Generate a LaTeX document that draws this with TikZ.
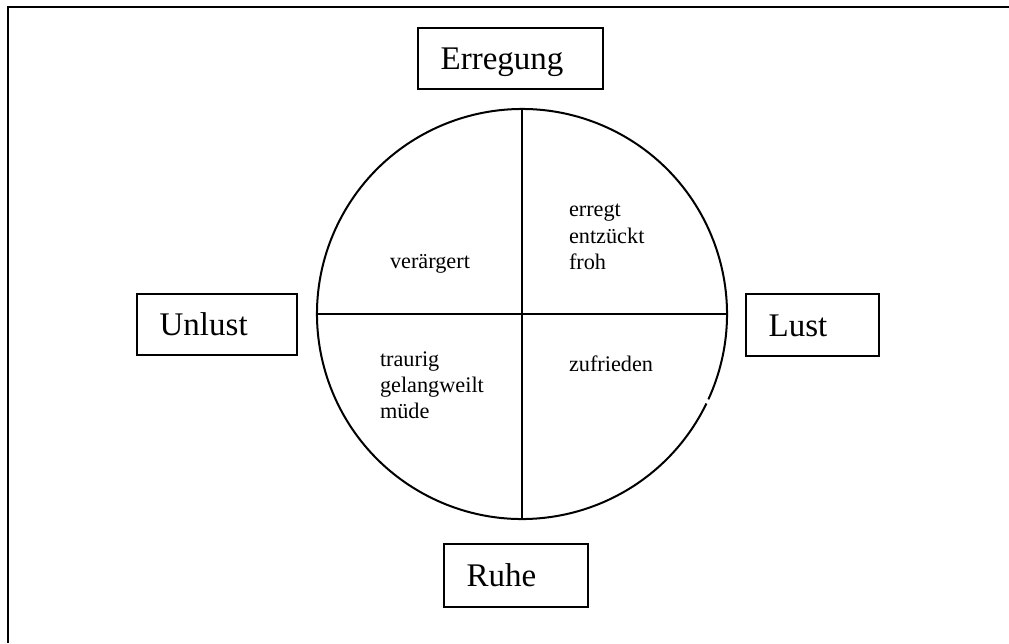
\documentclass[tikz,border=0pt]{standalone}
\usepackage{fontspec}
\setmainfont{Liberation Serif}
\begin{document}
\begin{tikzpicture}[x=0.75pt,y=-0.75pt,
  line width=1.5pt,
  axisbox/.style={draw, line width=1.5pt, align=left, inner xsep=17pt, inner ysep=0pt,
    text height=20pt, text depth=2.8pt, font=\fontsize{24.75}{29}\selectfont},
  mood/.style={anchor=base west, inner sep=0pt, font=\fontsize{16.7}{20}\selectfont}]
  \useasboundingbox (0,0) rectangle (1009,643);

  % frame (top and left edges)
  \coordinate (fTL) at (8,6.5);
  \coordinate (fTR) at (1009,6.5);
  \coordinate (fBL) at (8,643);
  \draw (fTR) -- (fTL) -- (fBL);

  % circle with quadrant axes (small break at lower right)
  \coordinate (c) at (522,314);
  \draw (c) ++(25.9:205) arc[start angle=25.9, end angle=384.6, radius=205];
  \coordinate (cT) at (522,109);
  \coordinate (cB) at (522,519);
  \coordinate (cL) at (317,314);
  \coordinate (cR) at (727,314);
  \draw (cT) -- (cB);
  \draw (cL) -- (cR);

  % axis labels
  \node[axisbox, minimum width=138.75pt, minimum height=45.75pt, text width=104.75pt] (erregung) at (510.5,58.5) {Erregung};
  \node[axisbox, minimum width=120pt, minimum height=45.75pt, text width=86pt] (unlust) at (217,324.5) {Unlust};
  \node[axisbox, minimum width=99.75pt, minimum height=46.5pt, text width=65.75pt] (lust) at (812.5,325) {Lust};
  \node[axisbox, minimum width=108pt, minimum height=47.25pt, text width=74pt] (ruhe) at (516,575.5) {Ruhe};

  % moods per quadrant
  \node[mood] (veraergert) at (389,268) {verärgert};
  \node[mood] (erregt) at (568,216) {erregt};
  \node[mood] (entzueckt) at (568,243) {entzückt};
  \node[mood] (froh) at (568,269.5) {froh};
  \node[mood] (traurig) at (379,366) {traurig};
  \node[mood] (gelangweilt) at (379,392) {gelangweilt};
  \node[mood] (muede) at (379,418) {müde};
  \node[mood] (zufrieden) at (568,371) {zufrieden};
\end{tikzpicture}
\end{document}
